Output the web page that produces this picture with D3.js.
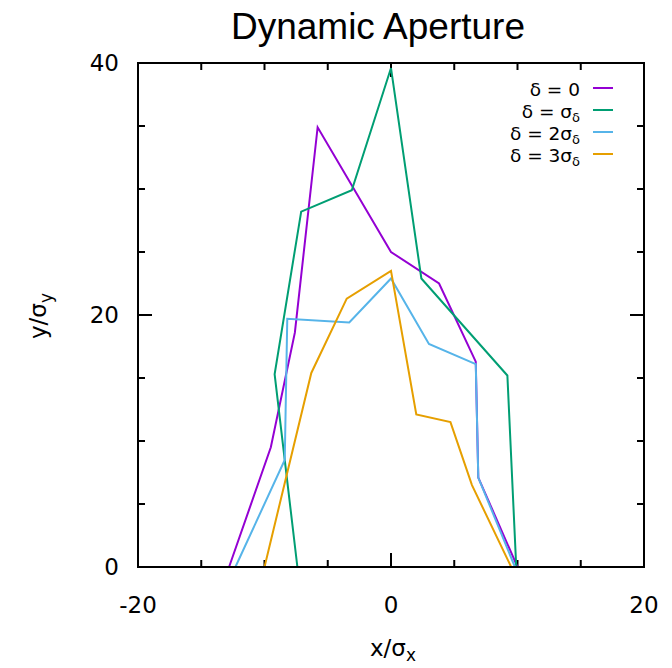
<!DOCTYPE html>
<html>
<head>
<meta charset="utf-8">
<script src="https://cdn.jsdelivr.net/npm/d3@7"></script>
<style>
  html, body { margin: 0; padding: 0; background: #fff; }
  svg { display: block; }
</style>
</head>
<body>
<svg id="chart" width="672" height="668"></svg>
<script>
// Dynamic aperture boundaries (x/σx, y/σy) for four momentum offsets
const seriesNames = ["δ = 0", "δ = σδ", "δ = 2σδ", "δ = 3σδ"];
const seriesColors = ["#9400d3", "#009e73", "#56b4e9", "#e69f00"];

const apertureDelta0 = [
  [-12.8, 0], [-9.5, 9.5], [-7.6, 18.6], [-5.8, 34.9], [0.0, 25.0],
  [3.8, 22.5], [6.7, 16.3], [6.9, 7.1], [10.0, 0]
];
const apertureDelta1 = [
  [-7.4, 0], [-9.2, 15.3], [-7.1, 28.2], [-3.1, 29.9], [0.0, 39.6],
  [2.4, 22.9], [9.2, 15.2], [9.9, 0]
];
const apertureDelta2 = [
  [-12.3, 0], [-8.4, 8.5], [-8.2, 19.7], [-3.3, 19.4], [0.0, 22.9],
  [3.0, 17.7], [6.7, 16.1], [6.9, 7.1], [9.8, 0]
];
const apertureDelta3 = [
  [-10.0, 0], [-6.3, 15.4], [-3.5, 21.3], [0.0, 23.5], [2.0, 12.1],
  [4.7, 11.5], [6.4, 6.5], [9.5, 0]
];
const seriesData = [apertureDelta0, apertureDelta1, apertureDelta2, apertureDelta3];

const xMajorTicks = [-20, 0, 20];
const xMinorTicks = [-15, -10, -5, 5, 10, 15];
const yMajorTicks = [0, 20, 40];
const yMinorTicks = [5, 10, 15, 25, 30, 35];

const svg = d3.select("#chart");
const plot = { left: 138, right: 644, top: 63, bottom: 567 };

const x = d3.scaleLinear().domain([-20, 20]).range([plot.left, plot.right]);
const y = d3.scaleLinear().domain([0, 40]).range([plot.bottom, plot.top]);

const tickFont = "'DejaVu Sans', sans-serif";
const majorLen = 14, minorLen = 7;

// Inward ticks on all four sides (mirrored)
const tickG = svg.append("g").attr("stroke", "#000").attr("stroke-width", 2);
function xTicks(vals, len) {
  vals.forEach(v => {
    tickG.append("line").attr("x1", x(v)).attr("x2", x(v))
      .attr("y1", plot.bottom).attr("y2", plot.bottom - len);
    tickG.append("line").attr("x1", x(v)).attr("x2", x(v))
      .attr("y1", plot.top).attr("y2", plot.top + len);
  });
}
function yTicks(vals, len) {
  vals.forEach(v => {
    tickG.append("line").attr("y1", y(v)).attr("y2", y(v))
      .attr("x1", plot.left).attr("x2", plot.left + len);
    tickG.append("line").attr("y1", y(v)).attr("y2", y(v))
      .attr("x1", plot.right).attr("x2", plot.right - len);
  });
}
xTicks(xMajorTicks, majorLen);
xTicks(xMinorTicks, minorLen);
yTicks(yMajorTicks, majorLen);
yTicks(yMinorTicks, minorLen);

// Tick labels
svg.append("g").selectAll("text").data(xMajorTicks).join("text")
  .attr("x", d => x(d)).attr("y", 605)
  .attr("text-anchor", "middle").attr("dominant-baseline", "central")
  .attr("font-family", tickFont).attr("font-size", 23)
  .text(d => d);
svg.append("g").selectAll("text").data(yMajorTicks).join("text")
  .attr("x", plot.left - 19).attr("y", d => y(d))
  .attr("text-anchor", "end").attr("dominant-baseline", "central")
  .attr("font-family", tickFont).attr("font-size", 23)
  .text(d => d);

// Aperture curves
const line = d3.line().x(d => x(d[0])).y(d => y(d[1]));
svg.append("g").selectAll("path").data(seriesData).join("path")
  .attr("d", line)
  .attr("fill", "none")
  .attr("stroke", (d, i) => seriesColors[i])
  .attr("stroke-width", 2)
  .attr("stroke-linejoin", "miter");

// Frame
svg.append("rect")
  .attr("x", plot.left).attr("y", plot.top)
  .attr("width", plot.right - plot.left).attr("height", plot.bottom - plot.top)
  .attr("fill", "none").attr("stroke", "#000").attr("stroke-width", 2);

// Title
svg.append("text")
  .attr("x", 378).attr("y", 39)
  .attr("text-anchor", "middle")
  .attr("font-family", "'Liberation Sans', Arial, sans-serif")
  .attr("font-size", 37)
  .text("Dynamic Aperture");

// Axis labels with subscripts
const xl = svg.append("text")
  .attr("x", 393).attr("y", 656)
  .attr("text-anchor", "middle")
  .attr("font-family", tickFont).attr("font-size", 23);
xl.append("tspan").text("x/σ");
xl.append("tspan").attr("dy", 5).attr("font-size", 17).text("x");

const yl = svg.append("text")
  .attr("transform", "translate(46,316) rotate(-90)")
  .attr("text-anchor", "middle")
  .attr("font-family", tickFont).attr("font-size", 23);
yl.append("tspan").text("y/σ");
yl.append("tspan").attr("dy", 6).attr("font-size", 17).text("y");

// Legend
const legendRows = [96, 118, 140, 162];
const legend = svg.append("g");
seriesNames.forEach((name, i) => {
  const t = legend.append("text")
    .attr("x", 580).attr("y", legendRows[i])
    .attr("text-anchor", "end")
    .attr("font-family", tickFont).attr("font-size", 18.5)
    .attr("xml:space", "preserve");
  if (name.endsWith("σδ")) {
    t.append("tspan").text(name.slice(0, -1));
    t.append("tspan").attr("dy", 4).attr("font-size", 13).text("δ");
  } else {
    t.text(name);
  }
  legend.append("line")
    .attr("x1", 593).attr("x2", 613)
    .attr("y1", legendRows[i] - 8).attr("y2", legendRows[i] - 8)
    .attr("stroke", seriesColors[i]).attr("stroke-width", 2);
});
</script>
</body>
</html>
